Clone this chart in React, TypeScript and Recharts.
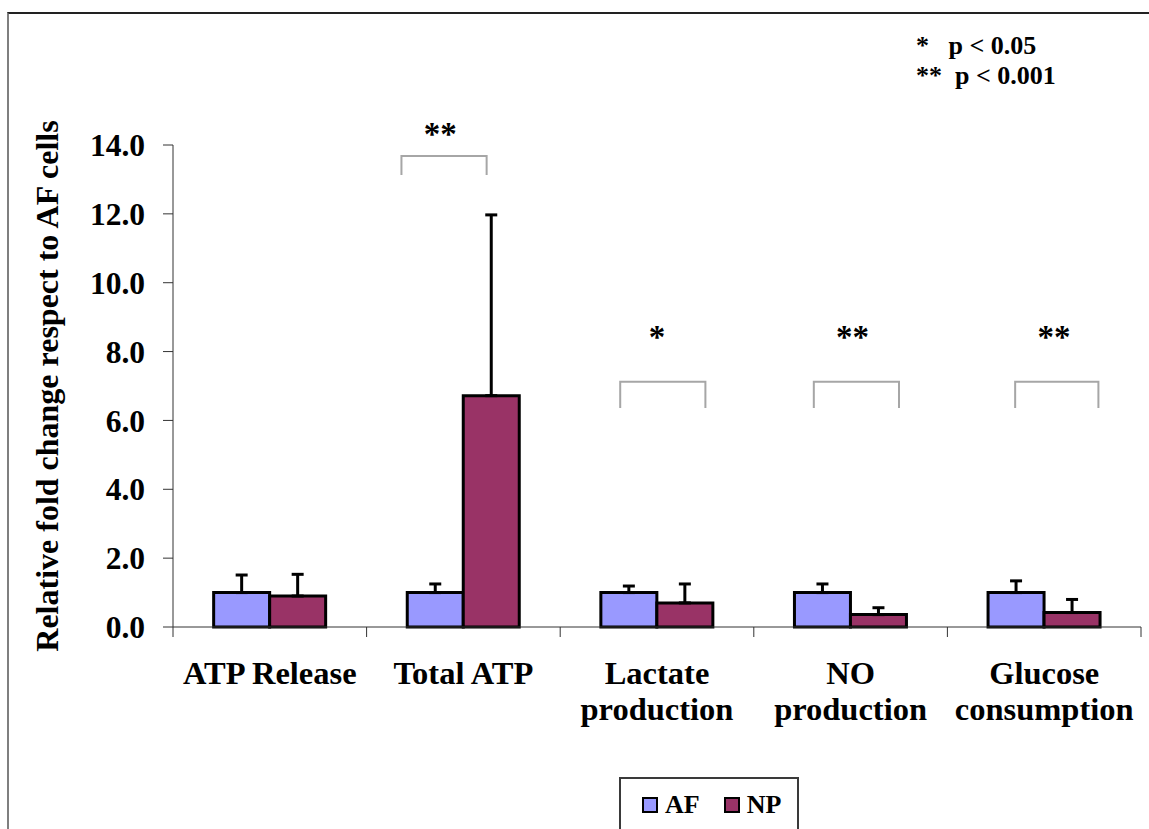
import { BarChart, Bar, XAxis, YAxis, ErrorBar, Legend, ReferenceArea, ReferenceDot } from 'recharts';

const FONT = '"Liberation Serif", "Times New Roman", serif';

// categories + series values
const categories = ['ATP Release', 'Total ATP', 'Lactate\nproduction', 'NO\nproduction', 'Glucose\nconsumption'];
const afMean = [1.0, 1.0, 1.0, 1.0, 1.0];
const afErr = [0.51, 0.25, 0.19, 0.25, 0.34];
const npMean = [0.9, 6.72, 0.7, 0.36, 0.42];
const npErr = [0.63, 5.25, 0.55, 0.2, 0.38];
const yTicks = [0, 2, 4, 6, 8, 10, 12, 14];

// significance brackets, in category units (0..5) on a hidden numeric axis
const bracketX1 = [1.18, 2.31, 3.31, 4.35];
const bracketX2 = [1.62, 2.75, 3.75, 4.78];
const bracketTop = [13.68, 7.12, 7.12, 7.12];
const bracketBottom = [13.13, 6.36, 6.36, 6.36];
const starText = ['**', '*', '**', '**'];
const starX = [1.38, 2.5, 3.51, 4.55];
const starY = [14.0, 8.1, 8.1, 8.1];

const data = categories.map((name, i) => ({
  name,
  pos: i + 0.5,
  af: afMean[i],
  afErr: [0, afErr[i]],
  np: npMean[i],
  npErr: [0, npErr[i]],
}));

const BracketShape = (p: any) => {
  const { x, y, width, height } = p;
  return (
    <path
      d={`M${x},${y + height}V${y}H${x + width}V${y + height}`}
      stroke="#a6a6a6"
      strokeWidth={2}
      fill="none"
    />
  );
};

const StarLabel = (text: string) => (p: any) => {
  const vb = p.viewBox || {};
  const cx = (vb.x ?? 0) + (vb.width ?? 0) / 2;
  const cy = (vb.y ?? 0) + (vb.height ?? 0) / 2;
  return (
    <text x={cx} y={cy} textAnchor="middle" fontFamily={FONT} fontWeight="bold" fontSize={33} fill="#000">
      {text}
    </text>
  );
};

const XTick = (props: any) => {
  const { x, y, payload, index } = props;
  const half = payload?.offset ?? 96.8;
  const lines = String(payload.value).split('\n');
  return (
    <g>
      <line x1={x - half} y1={y} x2={x - half} y2={y + 10} stroke="#333" />
      {index === categories.length - 1 && (
        <line x1={x + half} y1={y} x2={x + half} y2={y + 10} stroke="#333" />
      )}
      <text x={x} y={y + 57} textAnchor="middle" fontFamily={FONT} fontWeight="bold" fontSize={32.5} fill="#000">
        {lines.map((l, i) => (
          <tspan key={i} x={x} dy={i === 0 ? 0 : 36}>{l}</tspan>
        ))}
      </text>
    </g>
  );
};

const YTitle = (props: any) => {
  const vb = props.viewBox;
  const cy = vb ? vb.y + vb.height / 2 : 386;
  return (
    <text
      x={58}
      y={cy}
      transform={`rotate(-90, 58, ${cy})`}
      textAnchor="middle"
      fontFamily={FONT}
      fontWeight="bold"
      fontSize={32}
      fill="#000"
    >
      Relative fold change respect to AF cells
    </text>
  );
};

const renderLegend = (props: any) => {
  const items = props.payload || [];
  return (
    <div
      style={{
        boxSizing: 'border-box',
        width: 180,
        height: 70,
        border: '2px solid #3a3a3a',
        padding: '11px 0 0 21px',
        display: 'flex',
        alignItems: 'flex-start',
        fontFamily: FONT,
      }}
    >
      {items.map((it: any, i: number) => (
        <div
          key={it.value}
          style={{ display: 'flex', alignItems: 'center', height: 30, marginLeft: i === 0 ? 0 : 24 }}
        >
          <span
            style={{
              boxSizing: 'border-box',
              display: 'inline-block',
              width: 16,
              height: 16,
              background: it.color,
              border: '2px solid #000',
              marginRight: 7,
            }}
          />
          <span style={{ fontSize: 26, fontWeight: 'bold', color: '#000', lineHeight: '30px' }}>{it.value}</span>
        </div>
      ))}
    </div>
  );
};

export default function App() {
  return (
    <div
      style={{
        position: 'absolute',
        left: 0,
        top: 0,
        width: 1149,
        height: 829,
        overflow: 'hidden',
        background: '#fff',
        fontFamily: FONT,
      }}
    >
      {/* outer frame, cut off at right and bottom */}
      <div
        style={{
          position: 'absolute',
          left: 7,
          top: 12,
          width: 1300,
          height: 1000,
          borderLeft: '2px solid #7f7f7f',
          borderTop: '2px solid #222',
        }}
      />
      <div
        style={{
          position: 'absolute',
          left: 916,
          top: 31,
          fontSize: 26,
          fontWeight: 'bold',
          lineHeight: '30px',
          whiteSpace: 'pre',
          color: '#000',
        }}
      >
        <div>{'*   p < 0.05'}</div>
        <div>{'**  p < 0.001'}</div>
      </div>
      <div style={{ position: 'absolute', left: 0, top: 0 }}>
        <BarChart
          width={1149}
          height={829}
          data={data}
          margin={{ top: 145, right: 8, left: 0, bottom: 82 }}
          barCategoryGap="21%"
          barGap={0}
        >
          <XAxis
            dataKey="name"
            interval={0}
            height={120}
            tickSize={0}
            tickMargin={0}
            tickLine={false}
            axisLine={{ stroke: '#333', strokeWidth: 1 }}
            tick={<XTick />}
          />
          <XAxis xAxisId="num" dataKey="pos" type="number" domain={[0, 5]} hide allowDataOverflow />
          <YAxis
            width={173}
            domain={[0, 14]}
            ticks={yTicks}
            interval={0}
            tickFormatter={(v: number) => v.toFixed(1)}
            tickSize={10}
            tickMargin={18}
            axisLine={{ stroke: '#333', strokeWidth: 1 }}
            tickLine={{ stroke: '#333', strokeWidth: 1 }}
            tick={{ fontFamily: FONT, fontWeight: 'bold', fontSize: 31.5, fill: '#000' }}
            label={<YTitle />}
          />
          <Legend
            verticalAlign="middle"
            align="center"
            layout="horizontal"
            wrapperStyle={{ left: 619, top: 777, width: 180, height: 70 }}
            content={renderLegend}
          />
          <Bar dataKey="af" name="AF" fill="#9999FF" stroke="#000" strokeWidth={3} isAnimationActive={false}>
            <ErrorBar dataKey="afErr" width={6} stroke="#000" strokeWidth={3} direction="y" />
          </Bar>
          <Bar dataKey="np" name="NP" fill="#993366" stroke="#000" strokeWidth={3} isAnimationActive={false}>
            <ErrorBar dataKey="npErr" width={6} stroke="#000" strokeWidth={3} direction="y" />
          </Bar>
          {bracketX1.map((x1, i) => (
            <ReferenceArea
              key={`br${i}`}
              xAxisId="num"
              x1={x1}
              x2={bracketX2[i]}
              y1={bracketBottom[i]}
              y2={bracketTop[i]}
              ifOverflow="visible"
              shape={<BracketShape />}
            />
          ))}
          {starX.map((x, i) => (
            <ReferenceDot
              key={`st${i}`}
              xAxisId="num"
              x={x}
              y={starY[i]}
              r={0}
              fill="none"
              stroke="none"
              ifOverflow="visible"
              label={StarLabel(starText[i])}
            />
          ))}
        </BarChart>
      </div>
    </div>
  );
}
